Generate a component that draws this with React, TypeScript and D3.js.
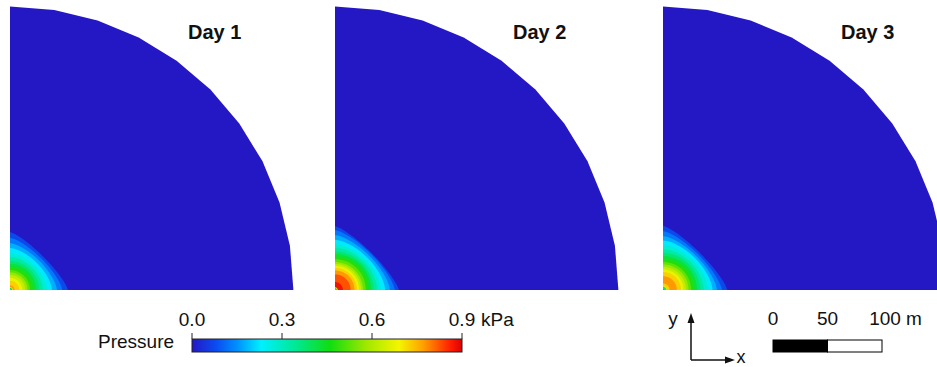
import * as React from "react";
import * as d3 from "d3";

// panels
const days = ["Day 1", "Day 2", "Day 3"];
const panelOriginX = [10, 335, 663];

// radial pressure profiles (radius in m, pressure in kPa)
const day1Radius = [0, 2.8, 5.5, 9.2, 13.8, 18.3, 22.9, 27.5, 33, 39.4, 45.9, 52.3, 57.8];
const day1Pressure = [0.05, 0.76, 0.74, 0.69, 0.6, 0.5, 0.42, 0.34, 0.26, 0.19, 0.12, 0.06, 0];
const day2Radius = [0, 2.8, 7.3, 12.8, 17.4, 21.1, 25.7, 30.3, 34.9, 41.3, 47.7, 55, 62.4];
const day2Pressure = [0.05, 0.86, 0.85, 0.82, 0.76, 0.68, 0.55, 0.46, 0.36, 0.26, 0.18, 0.1, 0];
const day3Radius = [0, 3.7, 7.3, 11.9, 16.5, 21.1, 25.7, 31.2, 36.7, 43.1, 49.5, 56, 64.2];
const day3Pressure = [0.05, 0.7, 0.78, 0.76, 0.7, 0.6, 0.5, 0.4, 0.31, 0.23, 0.15, 0.08, 0];

const profiles = [
  { r: day1Radius, p: day1Pressure },
  { r: day2Radius, p: day2Pressure },
  { r: day3Radius, p: day3Pressure },
];

const DOMAIN_RADIUS = 260; // m
const colorTicks = [0, 0.3, 0.6, 0.9];
const scaleTicks = [0, 50, 100];

// jet-like colour map
const jetStops = [0, 0.08, 0.15, 0.23, 0.35, 0.46, 0.58, 0.69, 0.77, 0.86, 0.9];
const jetColors = [
  "#2418c4", "#0a4cf0", "#0090ff", "#00f0ff", "#00e890", "#10dd10",
  "#a0e800", "#f5f500", "#ffa000", "#ff2000", "#dd0000",
];
const levels = d3.range(0.05, 0.9, 0.05);

const W = 937;
const H = 367;
const BASE_Y = 290;
const FONT = "'Liberation Sans', Arial, sans-serif";

function crossings(r: number[], p: number[], L: number): [number, number] | null {
  // radii where p first rises above L and last falls below L
  let rin: number | null = null;
  let rout: number | null = null;
  for (let i = 0; i < r.length - 1; i++) {
    const a = p[i], b = p[i + 1];
    if (a < L && b >= L && rin === null) rin = r[i] + ((L - a) / (b - a)) * (r[i + 1] - r[i]);
    if (a >= L && b < L) rout = r[i] + ((a - L) / (a - b)) * (r[i + 1] - r[i]);
  }
  if (p[0] >= L) rin = 0;
  if (rout === null) return null;
  return [rin ?? 0, rout];
}

// quarter ring outline; low levels spread out in a flatter, diamond-like front
function ringPath(r: number, n: number, reverse = false) {
  const angles = d3.range(0, 91, 5).map((d) => (d * Math.PI) / 180);
  const pts = angles.map((a) => {
    const c = Math.cos(a), s = Math.sin(a);
    const k = r / Math.pow(Math.pow(c, n) + Math.pow(s, n), 1 / n);
    return [k * c, -k * s];
  });
  if (reverse) pts.reverse();
  return pts;
}

export default function App() {
  const mScale = d3.scaleLinear().domain([0, 100]).range([0, 109]);
  const color = d3.scaleLinear<string>().domain(jetStops).range(jetColors).clamp(true);
  const shapeExp = d3.scaleLinear().domain([0.05, 0.4]).range([1.25, 2]).clamp(true);
  const cbScale = d3.scaleLinear().domain([0, 0.9]).range([192, 462]);
  const sbScale = d3.scaleLinear().domain([0, 100]).range([773, 882]);

  const R = mScale(DOMAIN_RADIUS);
  const quarter = d3.range(0, 11).map((i) => {
    const a = (i * 9 * Math.PI) / 180;
    return [R * Math.sin(a), -R * Math.cos(a)];
  });
  const quarterPath = "M0,0L" + quarter.map((q) => q.join(",")).join("L") + "Z";

  const bandPath = (inner: number, outer: number, n: number) => {
    const out = ringPath(outer, n);
    let d = "M0,0L" + out.map((q) => q.join(",")).join("L") + "Z";
    if (inner > 0.5) {
      const inn = ringPath(inner, 2, true);
      d += "M0,0L" + inn.map((q) => q.join(",")).join("L") + "Z";
    }
    return d;
  };

  return (
    <svg width={W} height={H} style={{ position: "absolute", left: 0, top: 0 }} fontFamily={FONT}>
      <defs>
        <linearGradient id="jet" x1="0" x2="1" y1="0" y2="0">
          {jetStops.map((s, i) => (
            <stop key={i} offset={s / 0.9} stopColor={jetColors[i]} />
          ))}
        </linearGradient>
      </defs>
      <rect width={W} height={H} fill="#fff" />

      {days.map((day, k) => (
        <g key={day} transform={`translate(${panelOriginX[k]},${BASE_Y})`}>
          <path d={quarterPath} fill={color(0)} />
          {levels.map((L) => {
            const c = crossings(profiles[k].r, profiles[k].p, L);
            if (!c) return null;
            return (
              <path
                key={L}
                d={bandPath(mScale(c[0]), mScale(c[1]), shapeExp(L))}
                fill={color(L + 0.025)}
                fillRule="evenodd"
              />
            );
          })}
          <text x={178} y={-251} fontSize={20} fontWeight="bold" fill="#111">
            {day}
          </text>
        </g>
      ))}

      {/* colour bar */}
      <text x={98} y={348} fontSize={19} fill="#111">Pressure</text>
      <rect x={cbScale(0)} y={339} width={cbScale(0.9) - cbScale(0)} height={13} fill="url(#jet)" stroke="#222" strokeWidth={1} />
      {colorTicks.map((t) => (
        <g key={t}>
          <line x1={cbScale(t)} x2={cbScale(t)} y1={333} y2={339} stroke="#222" strokeWidth={1} />
          <text x={cbScale(t)} y={326} fontSize={19} textAnchor="middle" fill="#111">
            {t.toFixed(1)}
          </text>
        </g>
      ))}
      <text x={cbScale(0.9) + 19} y={326} fontSize={19} textAnchor="start" fill="#111">kPa</text>

      {/* axes indicator */}
      <g stroke="#111" strokeWidth={1.5} fill="none">
        <line x1={691} y1={360} x2={691} y2={320} />
        <line x1={691} y1={360} x2={728} y2={360} />
      </g>
      <path d="M691,313L687.5,323L694.5,323Z" fill="#111" />
      <path d="M735,360L725,356.5L725,363.5Z" fill="#111" />
      <text x={673} y={325} fontSize={19} textAnchor="middle" fill="#111">y</text>
      <text x={741} y={363} fontSize={18} textAnchor="middle" fill="#111">x</text>

      {/* scale bar */}
      <rect x={sbScale(0)} y={340} width={sbScale(50) - sbScale(0)} height={12} fill="#000" stroke="#000" />
      <rect x={sbScale(50)} y={340} width={sbScale(100) - sbScale(50)} height={12} fill="#fff" stroke="#000" />
      {scaleTicks.map((t) => (
        <text key={t} x={sbScale(t) + (t === 100 ? 3 : 0)} y={325} fontSize={19} textAnchor="middle" fill="#111">
          {t}
        </text>
      ))}
      <text x={sbScale(100) + 24} y={325} fontSize={19} fill="#111">m</text>
    </svg>
  );
}
